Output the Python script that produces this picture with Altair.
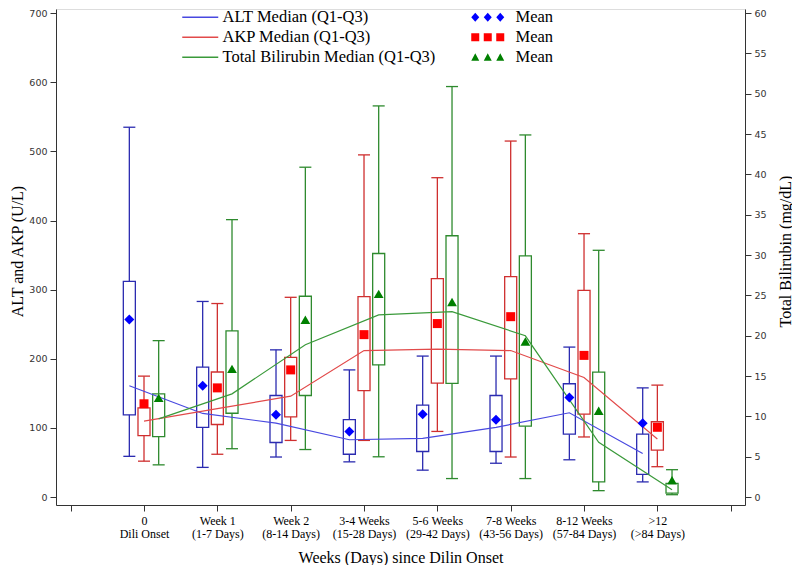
import json
import altair as alt
import pandas as pd

# ---------------- data ----------------
cat_line1 = ["0", "Week 1", "Week 2", "3-4 Weeks", "5-6 Weeks", "7-8 Weeks", "8-12 Weeks", ">12"]
cat_line2 = ["Dili Onset", "(1-7 Days)", "(8-14 Days)", "(15-28 Days)", "(29-42 Days)",
             "(43-56 Days)", "(57-84 Days)", "(>84 Days)"]

# ALT (U/L)
alt_low = [59, 43, 58, 51, 39, 49, 54, 22]
alt_q1 = [119, 101, 79, 62, 66, 66, 91, 33]
alt_median = [161, 121, 107, 83, 85, 101, 122, 63]
alt_q3 = [312, 188, 147, 112, 133, 147, 164, 91]
alt_high = [535, 283, 213, 184, 204, 204, 217, 158]
alt_mean = [257, 161, 119, 95, 120, 112, 144, 107]

# AKP (U/L)
akp_low = [52, 62, 82, 82, 95, 58, 87, 44]
akp_q1 = [89, 105, 116, 154, 165, 171, 120, 68]
akp_median = [110, 128, 146, 212, 214, 212, 173, 84]
akp_q3 = [129, 181, 202, 290, 316, 319, 299, 109]
akp_high = [175, 280, 289, 495, 462, 515, 381, 162]
akp_mean = [135, 158, 184, 235, 251, 261, 205, 101]

# Total bilirubin (mg/dL)
tb_low = [4.0, 6.0, 5.9, 5.0, 2.3, 2.3, 0.8, 0.3]
tb_q1 = [7.5, 10.4, 12.6, 16.4, 14.1, 8.8, 1.9, 0.5]
tb_median = [9.7, 12.8, 18.9, 22.6, 23.0, 20.0, 6.8, 0.9]
tb_q3 = [12.8, 20.6, 24.9, 30.2, 32.4, 29.9, 15.5, 1.7]
tb_high = [19.4, 34.4, 40.9, 48.5, 50.9, 44.9, 30.6, 3.4]
tb_mean = [12.3, 15.9, 22.0, 25.2, 24.2, 19.3, 10.7, 2.1]

keys = ["ALT", "AKP", "TB"]
line_labels = ["ALT Median (Q1-Q3)", "AKP Median (Q1-Q3)", "Total Bilirubin Median (Q1-Q3)"]

# ---------------- styling constants ----------------
BOX_COLORS = {"ALT": "#2b2bb0", "AKP": "#cf2f2f", "TB": "#2e8a2e"}
LINE_COLORS = ["#4848e0", "#e24a4a", "#3a9a3a"]
MEAN_COLORS = {"ALT": "#0000ff", "AKP": "#ff0000", "TB": "#008000"}
MEAN_SHAPES = {"ALT": "diamond", "AKP": "square", "TB": "triangle-up"}
MEAN_SIZES = {"ALT": 100, "AKP": 81, "TB": 95}
DODGE = {"ALT": -0.2, "AKP": 0.0, "TB": 0.2}
BOX_HALF = 0.082
XDOM = [-1.2, 8.195]
UL_DOM = [-11.4, 706.0]
TB_DOM = [UL_DOM[0] * 60 / 700, UL_DOM[1] * 60 / 700]
SERIF = "Liberation Serif"
SANS = "DejaVu Sans"

series = {
    "ALT": (alt_low, alt_q1, alt_median, alt_q3, alt_high, alt_mean),
    "AKP": (akp_low, akp_q1, akp_median, akp_q3, akp_high, akp_mean),
    "TB": (tb_low, tb_q1, tb_median, tb_q3, tb_high, tb_mean),
}
rows = []
for k, lab in zip(keys, line_labels):
    lo, q1, md, q3, hi, mn = series[k]
    for i in range(len(cat_line1)):
        rows.append(dict(key=k, label=lab, cat=i, dodge=DODGE[k], low=lo[i], q1=q1[i],
                         median=md[i], q3=q3[i], high=hi[i], mean=mn[i]))
df = pd.DataFrame(rows)

# ---------------- axes / legends ----------------
label_expr = (f"datum.value >= 0 && datum.value <= {len(cat_line1) - 1} ? "
              f"[{json.dumps(cat_line1)}[datum.value], {json.dumps(cat_line2)}[datum.value]] : ''")

x_axis = alt.Axis(values=list(range(-1, 9)), labelExpr=label_expr,
                  title="Weeks (Days) since Dilin Onset", titleFont=SERIF, titleFontSize=16,
                  titleFontWeight="normal", titleColor="black", titlePadding=10,
                  labelFont=SERIF, labelFontSize=12, labelColor="black", labelLineHeight=13,
                  labelPadding=4, tickSize=6, grid=False, labelFlush=False, labelOverlap=False,
                  domainColor="#333", tickColor="#333")

left_axis = alt.Axis(values=list(range(0, 701, 100)), title="ALT and AKP (U/L)",
                     titleFont=SERIF, titleFontSize=16, titleFontWeight="normal",
                     titleColor="black", titleX=-39, titleY=242, titleAngle=270,
                     titleAlign="center", titleBaseline="middle",
                     labelFont=SANS, labelFontSize=9.5,
                     labelColor="#333", labelPadding=3, tickSize=6, grid=False,
                     domainColor="#333", tickColor="#333", labelFlush=False)

right_axis = alt.Axis(orient="right", values=list(range(0, 61, 5)), title="Total Bilirubin (mg/dL)",
                      titleAngle=270, titleX=40, titleY=242, titleAlign="center",
                      titleBaseline="middle", titleFont=SERIF, titleFontSize=16,
                      titleFontWeight="normal", titleColor="black",
                      labelFont=SANS, labelFontSize=9.5,
                      labelColor="#333", labelPadding=3, tickSize=6, grid=False,
                      domainColor="#333", tickColor="#333", labelFlush=False)

line_legend = alt.Legend(orient="none", legendX=149, legendY=0, title=None, padding=0,
                         symbolType="M-6.2,0L1,0", symbolSize=100, symbolStrokeWidth=1.3,
                         labelFont=SERIF, labelFontSize=16.5, labelColor="black",
                         labelOffset=1, rowPadding=3, labelLimit=400)


def triple(shape_fn):
    return " ".join(shape_fn(c) for c in (-5.0, -2.5, 0.0))


def diamond(c):
    return f"M{c},-0.9L{c + 0.8},0L{c},0.9L{c - 0.8},0Z"


def square(c):
    return f"M{c - 0.8},-0.8L{c + 0.8},-0.8L{c + 0.8},0.8L{c - 0.8},0.8Z"


def triangle(c):
    return f"M{c},-0.8L{c + 0.8},0.7L{c - 0.8},0.7Z"


TRIPLE_PATHS = [triple(diamond), triple(square), triple(triangle)]

mean_legend = alt.Legend(orient="none", legendX=436, legendY=0, title=None, padding=0,
                         symbolSize=100, symbolStrokeWidth=0, symbolOpacity=1,
                         labelExpr="'Mean'", labelFont=SERIF, labelFontSize=16.5,
                         labelColor="black", labelOffset=7, rowPadding=3)


# ---------------- layers ----------------
def base(k):
    return (alt.Chart(df)
            .transform_filter(alt.datum.key == k)
            .transform_calculate(pos="datum.cat + datum.dodge",
                                 left=f"datum.cat + datum.dodge - {BOX_HALF}",
                                 right=f"datum.cat + datum.dodge + {BOX_HALF}"))


def xq(field):
    return alt.X(f"{field}:Q", scale=alt.Scale(domain=XDOM, nice=False, zero=False), axis=x_axis)


def yq(field, k, axis=None):
    dom = TB_DOM if k == "TB" else UL_DOM
    return alt.Y(f"{field}:Q", scale=alt.Scale(domain=dom, nice=False, zero=False), axis=axis)


rules, boxes, caps, means = [], [], [], []
for k in keys:
    col = BOX_COLORS[k]
    ax = left_axis if k == "ALT" else (right_axis if k == "TB" else None)
    rules.append(base(k).mark_rule(strokeWidth=1.3, color=col).encode(
        x=xq("pos"), y=yq("low", k, ax), y2="high:Q"))
    boxes.append(base(k).mark_rect(fill="white", stroke=col, strokeWidth=1.3).encode(
        x=xq("left"), x2="right:Q", y=yq("q1", k), y2="q3:Q"))
    for f in ("low", "high"):
        caps.append(base(k).mark_rule(strokeWidth=1.3, color=col).encode(
            x=xq("left"), x2="right:Q", y=yq(f, k)))
    means.append(base(k).mark_point(filled=True, shape=MEAN_SHAPES[k], size=MEAN_SIZES[k],
                                    color=MEAN_COLORS[k], opacity=1, strokeWidth=0).encode(
        x=xq("pos"), y=yq("mean", k)))

color_enc = alt.Color("label:N", scale=alt.Scale(domain=line_labels, range=LINE_COLORS),
                      legend=line_legend, sort=line_labels)

ul_lines = (alt.Chart(df)
            .transform_filter(alt.FieldOneOfPredicate(field="key", oneOf=["ALT", "AKP"]))
            .transform_calculate(pos="datum.cat + datum.dodge")
            .mark_line(strokeWidth=1.2)
            .encode(x=xq("pos"), y=yq("median", "ALT"), color=color_enc, order="pos:Q"))
tb_lines = (base("TB").mark_line(strokeWidth=1.2)
            .encode(x=xq("pos"), y=yq("median", "TB"), color=color_enc, order="pos:Q"))

legend_proxy = (alt.Chart(df)
                .transform_filter(alt.datum.key != "TB")
                .transform_calculate(pos="datum.cat + datum.dodge")
                .mark_point(filled=True, opacity=0, size=100)
                .encode(x=xq("pos"), y=yq("mean", "ALT"),
                        shape=alt.Shape("key:N", scale=alt.Scale(domain=keys, range=TRIPLE_PATHS),
                                        legend=mean_legend),
                        fill=alt.Fill("key:N", scale=alt.Scale(domain=keys,
                                                               range=[MEAN_COLORS[k] for k in keys]),
                                      legend=mean_legend)))

chart = (alt.layer(*rules, *boxes, *caps, ul_lines, tb_lines, legend_proxy, *means)
         .resolve_scale(y="independent")
         .properties(width=689, height=496,
                     padding={"left": 48, "top": 1, "right": 47, "bottom": 60},
                     autosize=alt.AutoSizeParams(type="none"))
         .configure_view(stroke="#333", strokeWidth=1)
         .configure(background="white"))

chart.save("out.html", embed_options={"renderer": "svg", "actions": False})
